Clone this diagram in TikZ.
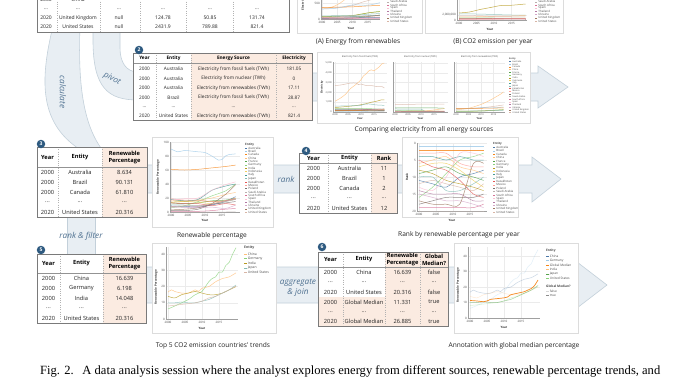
\documentclass[tikz,border=0pt]{standalone}
\usepackage{fontspec}
\usepackage{graphicx}
\setmainfont{Liberation Serif}
\newfontfamily\uif{Open Sans}
\usetikzlibrary{calc}
\definecolor{bandfill}{HTML}{E8EEF3}
\definecolor{bandline}{HTML}{C3D0DA}
\definecolor{peach}{HTML}{FBEBE1}
\definecolor{tbordc}{HTML}{7A7A7A}
\definecolor{badgec}{HTML}{2E5A80}
\definecolor{lblc}{HTML}{4E7090}
\definecolor{cboxc}{HTML}{DCDCDC}
\definecolor{gridc}{HTML}{EBEBEB}
\definecolor{axc}{HTML}{A0A0A0}
\definecolor{txc}{HTML}{222222}
\definecolor{cAU}{HTML}{4C78A8}
\definecolor{cBR}{HTML}{9ECAE9}
\definecolor{cCA}{HTML}{F58518}
\definecolor{cCN}{HTML}{FFBF79}
\definecolor{cFR}{HTML}{54A24B}
\definecolor{cDE}{HTML}{88D27A}
\definecolor{cIN}{HTML}{B79A20}
\definecolor{cID}{HTML}{F2CF5B}
\definecolor{cIT}{HTML}{439894}
\definecolor{cJP}{HTML}{83BCB6}
\definecolor{cKZ}{HTML}{E45756}
\definecolor{cMX}{HTML}{FF9D98}
\definecolor{cPL}{HTML}{79706E}
\definecolor{cSA}{HTML}{BAB0AC}
\definecolor{cZA}{HTML}{D67195}
\definecolor{cES}{HTML}{FCBFD2}
\definecolor{cTH}{HTML}{B279A2}
\definecolor{cUA}{HTML}{D6A5C9}
\definecolor{cGB}{HTML}{9E765F}
\definecolor{cUS}{HTML}{D8B5A5}
\newcounter{cellno}
\newcommand{\cell}[4]{\stepcounter{cellno}\edef\cellnm{cell\arabic{cellno}}\node[#1] (\cellnm) at (#2,#3) {#4};}
\newcommand{\dd}{...}
\newcommand{\rowIII}[5]{\cell{#1}{\tcA}{#2}{#3}\cell{#1}{\tcB}{#2}{#4}\cell{#1}{\tcC}{#2}{#5}}
\newcommand{\rowIV}[6]{\rowIII{#1}{#2}{#3}{#4}{#5}\cell{#1}{\tcD}{#2}{#6}}
\newcommand{\rowVI}[8]{\rowIV{#1}{#2}{#3}{#4}{#5}{#6}\cell{#1}{\tcE}{#2}{#7}\cell{#1}{\tcF}{#2}{#8}}
\def\tickfs{3}
\tikzset{
  band/.style={fill=bandfill, draw=bandline, line width=0.6pt},
  bandlbl/.style={font=\uif\itshape\fontsize{8.2}{10}\selectfont, text=lblc, inner sep=0},
  tframe/.style={fill=white, draw=none, inner sep=0, anchor=north west},
  tbrd/.style={draw=tbordc, line width=0.7pt},
  colsep/.style={draw=gray!60, line width=0.3pt, dotted},
  hdrsep/.style={draw=gray!85, line width=0.45pt},
  badge/.style={circle, fill=badgec, text=white, inner sep=0, minimum size=8.5pt, font=\uif\bfseries\fontsize{5}{5}\selectfont},
  tA/.style={font=\uif\fontsize{5}{6}\selectfont, inner sep=0, text=txc},
  tB/.style={font=\uif\fontsize{4.7}{5.5}\selectfont, inner sep=0, text=txc},
  tBh/.style={font=\uif\bfseries\fontsize{4.7}{5.5}\selectfont, inner sep=0, text=black},
  tC/.style={font=\uif\fontsize{5.7}{6.8}\selectfont, inner sep=0, text=txc},
  tCh/.style={font=\uif\bfseries\fontsize{5.7}{6.8}\selectfont, inner sep=0, text=black, align=center},
  cbox/.style={draw=cboxc, fill=white, line width=0.5pt, inner sep=0, anchor=north west},
  ccap/.style={font=\uif\fontsize{6.6}{7.5}\selectfont, inner sep=0, text=txc},
  gridln/.style={draw=gridc, line width=0.3pt},
  axln/.style={draw=axc, line width=0.3pt},
  tickl/.style={font=\uif\fontsize{\tickfs}{\tickfs}\selectfont, inner sep=0, text=black!70},
  axt/.style={font=\uif\bfseries\fontsize{3}{3.5}\selectfont, inner sep=0, text=black!80},
  lgt/.style={inner sep=0, text=black!70, anchor=west},
  dl/.style={line width=0.5pt, opacity=0.8, line join=round},
  dlf/.style={line width=0.5pt, opacity=0.3, line join=round},
}
\newcommand{\hgrid}[6]{\foreach \v/\l in {#6}{\draw[gridln] (#2,{#4-(#5)*\v}) -- (#3,{#4-(#5)*\v}); \node[tickl, anchor=east] (#1y\v) at (#2-1,{#4-(#5)*\v}) {\l};}}
\newcommand{\hgridonly}[5]{\foreach \v in {#5}{\draw[gridln] (#1,{#3-(#4)*\v}) -- (#2,{#3-(#4)*\v});}}
\newcommand{\vgrid}[5]{\foreach \k in {0,5,10,15}{\draw[gridln] ({#4+#5*\k},#2) -- ({#4+#5*\k},#3); \pgfmathtruncatemacro\yr{2000+\k}\node[tickl, anchor=north] (#1x\k) at ({#4+#5*\k},#3+1.8) {\yr};}}
\newcommand{\sixpt}[7][]{\draw[dl,#1] plot[smooth,tension=0.45] coordinates {(0,#2)(4,#3)(8,#4)(12,#5)(16,#6)(19,#7)};}
\newcommand{\dline}[2][]{\draw[dl,#1] plot[smooth,tension=0.45] coordinates {#2};}
\newcommand{\entlegend}[5]{%
  \node[lgt, font=\uif\bfseries\fontsize{#5}{#5}\selectfont] (#1t) at (#2,#3) {Entity};
  \foreach \nm/\cl [count=\i] in {Australia/cAU,Brazil/cBR,Canada/cCA,China/cCN,France/cFR,Germany/cDE,India/cIN,Indonesia/cID,Italy/cIT,Japan/cJP,Kazakhstan/cKZ,Mexico/cMX,Poland/cPL,Saudi Arabia/cSA,South Africa/cZA,Spain/cES,Thailand/cTH,Ukraine/cUA,United Kingdom/cGB,United States/cUS}{%
    \draw[draw=\cl, line width=0.5pt] (#2+0.2,#3+\i*#4) -- ++(2.2,0);
    \node[lgt, font=\uif\fontsize{#5}{#5}\selectfont] (#1\i) at (#2+3.2,#3+\i*#4) {\nm};}}
\begin{document}
\begin{tikzpicture}[x=1pt,y=-1pt]
\useasboundingbox (0,0) rectangle (678,381);
\clip (0,0) rectangle (678,381);
\fill[white] (0,0) rectangle (678,381);

% ---------- flow bands ----------
\draw[band] (53,26) .. controls (40,80) and (38,125) .. (84,152) -- (104,152) .. controls (82,125) and (78,80) .. (80,26) -- cycle;
\draw[band] (93,26) -- (93,40) .. controls (93,88) and (108,100) .. (138,100) -- (138,72) .. controls (126,72) and (120,62) .. (120,48) -- (120,26);
\fill[bandfill] (67,210) rectangle (95,262);
\draw[bandline, line width=0.6pt] (67,210) -- (67,262) (95,210) -- (95,262);
\draw[band] (300,73) -- (538,73) -- (538,66) -- (568,87) -- (538,108) -- (538,101) -- (300,101);
\draw[band] (140,165) -- (532,165) -- (532,157) -- (561,179) -- (532,202) -- (532,193) -- (140,193);
\draw[band] (140,267) -- (577,267) -- (577,262) -- (607,285) -- (577,308) -- (577,303) -- (140,303);

% ---------- table 1 ----------
\node[tframe, minimum width=252pt, minimum height=42pt] (tab1) at (37,-10) {};
\foreach \x in {57,100,140,186,233} \draw[colsep] (\x,-10) -- (\x,32);
\def\tcA{46}\def\tcB{78}\def\tcC{119}\def\tcD{163}\def\tcE{210}\def\tcF{257}
\cell{tA}{\tcA}{0}{2000}\cell{tA}{\tcB}{0}{China}
\rowVI{tA}{9}{\dd}{\dd}{\dd}{\dd}{\dd}{\dd}
\rowVI{tA}{18}{2020}{United Kingdom}{null}{124.78}{50.85}{131.74}
\rowVI{tA}{27}{2020}{United States}{null}{2431.9}{789.88}{821.4}
\draw[tbrd] (tab1.north west) rectangle (tab1.south east);

% ---------- table 2 ----------
\node[tframe, minimum width=179pt, minimum height=67pt] (tab2) at (133,53) {};
\fill[peach] (191,53) rectangle (312,120);
\foreach \x in {156,191,276} \draw[colsep] (\x,53) -- (\x,120);
\draw[hdrsep] (133,63) -- (312,63);
\def\tcA{144.5}\def\tcB{173.5}\def\tcC{233.5}\def\tcD{294}
\rowIV{tBh}{58}{Year}{Entity}{Energy Source}{Electricity}
\rowIV{tB}{69}{2000}{Australia}{Electricity from fossil fuels (TWh)}{181.05}
\rowIV{tB}{78.5}{2000}{Australia}{Electricity from nuclear (TWh)}{0}
\rowIV{tB}{88}{2000}{Australia}{Electricity from renewables (TWh)}{17.11}
\rowIV{tB}{97.5}{2000}{Brazil}{Electricity from fossil fuels (TWh)}{28.87}
\rowIV{tB}{107}{\dd}{\dd}{\dd}{\dd}
\rowIV{tB}{116}{2020}{United States}{Electricity from renewables (TWh)}{821.4}
\draw[tbrd] (tab2.north west) rectangle (tab2.south east);
\node[badge] (bdg2) at (139,50) {2};

% ---------- table 3 ----------
\node[tframe, minimum width=110pt, minimum height=70pt] (tab3) at (37,147) {};
\fill[peach] (102,147) rectangle (147,217);
\foreach \x in {58,102} \draw[colsep] (\x,147) -- (\x,217);
\draw[hdrsep] (37,167) -- (147,167);
\def\tcA{47.5}\def\tcB{80}\def\tcC{124.5}
\rowIII{tCh}{157.5}{Year}{Entity}{Renewable\\Percentage}
\rowIII{tC}{172.5}{2000}{Australia}{8.634}
\rowIII{tC}{182.5}{2000}{Brazil}{90.131}
\rowIII{tC}{192.5}{2000}{Canada}{61.810}
\rowIII{tC}{202.5}{\dd}{\dd}{\dd}
\rowIII{tC}{212.5}{2020}{United States}{20.316}
\draw[tbrd] (tab3.north west) rectangle (tab3.south east);
\node[badge] (bdg3) at (41,144) {3};

% ---------- table 4 ----------
\node[tframe, minimum width=98pt, minimum height=60pt] (tab4) at (299,153) {};
\fill[peach] (371,153) rectangle (397,213);
\foreach \x in {328,371} \draw[colsep] (\x,153) -- (\x,213);
\draw[hdrsep] (299,163.5) -- (397,163.5);
\def\tcA{313.5}\def\tcB{349.5}\def\tcC{384}
\rowIII{tCh}{158}{Year}{Entity}{Rank}
\rowIII{tC}{168.5}{2000}{Australia}{11}
\rowIII{tC}{178.5}{2000}{Brazil}{1}
\rowIII{tC}{188.5}{2000}{Canada}{2}
\rowIII{tC}{198.5}{\dd}{\dd}{\dd}
\rowIII{tC}{208.5}{2020}{United States}{12}
\draw[tbrd] (tab4.north west) rectangle (tab4.south east);
\node[badge] (bdg4) at (306,151) {4};

% ---------- table 5 ----------
\node[tframe, minimum width=109pt, minimum height=69pt] (tab5) at (37,254) {};
\fill[peach] (103,254) rectangle (146,323);
\foreach \x in {60,103} \draw[colsep] (\x,254) -- (\x,323);
\draw[hdrsep] (37,273) -- (146,273);
\def\tcA{48.5}\def\tcB{81.5}\def\tcC{124.5}
\rowIII{tCh}{263.5}{Year}{Entity}{Renewable\\Percentage}
\rowIII{tC}{278}{2000}{China}{16.639}
\rowIII{tC}{288.5}{2000}{Germany}{6.198}
\rowIII{tC}{298.5}{2000}{India}{14.048}
\rowIII{tC}{308.5}{\dd}{\dd}{\dd}
\rowIII{tC}{318.5}{2020}{United States}{20.316}
\draw[tbrd] (tab5.north west) rectangle (tab5.south east);
\node[badge] (bdg5) at (41,250) {5};

% ---------- table 6 ----------
\node[tframe, minimum width=130pt, minimum height=74pt] (tab6) at (318,252) {};
\fill[peach] (385,252) rectangle (448,326);
\fill[peach] (318,297) rectangle (448,326);
\foreach \x in {343,385,420} \draw[colsep] (\x,252) -- (\x,326);
\draw[hdrsep] (318,267.5) -- (448,267.5);
\def\tcA{330.5}\def\tcB{364}\def\tcC{402.5}\def\tcD{434}
\rowIV{tCh}{259.5}{Year}{Entity}{Renewable\\Percentage}{Global\\Median?}
\rowIV{tC}{272.5}{2000}{China}{16.639}{false}
\rowIV{tC}{282.5}{\dd}{\dd}{\dd}{\dd}
\rowIV{tC}{292}{2020}{United States}{20.316}{false}
\rowIV{tC}{302}{2000}{Global Median}{11.331}{true}
\rowIV{tC}{312}{\dd}{\dd}{\dd}{\dd}
\rowIV{tC}{321.5}{2020}{Global Median}{26.885}{true}
\draw[tbrd] (tab6.north west) rectangle (tab6.south east);
\node[badge] (bdg6) at (322,247) {6};

% ---------- chart A ----------
\node[cbox, minimum width=125pt, minimum height=38pt] (chA) at (297,-5) {};
\hgrid{cA}{321}{380}{19}{0.032}{0/0,500/500}
\vgrid{cA}{-10}{19}{322}{3.05}
\draw[axln] (321,-10) -- (321,19) -- (380,19);
\node[axt, rotate=90] (cAyt) at (303,3) {Electricity};
\node[axt] (cAxt) at (351,28.5) {Year};
\begin{scope}[shift={(322,19)}, x=3.05pt, y=3.2pt]
  \dline[draw=cCN]{(0,3.5)(2,3.4)(4,4)(6,5)(8,6.5)(10,8.5)(12,11)}
  \dline[draw=cUS]{(0,3.4)(4,3.5)(8,3.9)(10,4.2)(13,5.2)(16,6)(19,7)}
  \dline[draw=cCA]{(0,3.6)(5,3.7)(10,3.8)(15,4.1)(19,4.2)}
  \dline[draw=cBR]{(0,3.1)(5,3.4)(10,4.4)(15,4.3)(19,5.1)}
  \dline[draw=cDE]{(0,0.4)(5,0.7)(10,1)(15,1.9)(19,2.4)}
  \dline[draw=cIN]{(0,0.8)(5,0.9)(10,1.1)(15,1.9)(19,2.3)}
  \dline[draw=cJP]{(0,1)(10,1.1)(15,1.5)(19,1.7)}
  \dline[draw=cFR]{(0,0.7)(10,0.7)(19,1.1)}
  \dline[draw=cIT]{(0,0.5)(10,0.8)(19,1.2)}
  \dline[draw=cES]{(0,0.35)(10,0.9)(19,1)}
  \dline[draw=cGB]{(0,0.1)(10,0.3)(19,1.2)}
  \dline[draw=cMX]{(0,0.4)(19,0.6)}
  \dline[draw=cAU]{(0,0.2)(19,0.5)}
  \dline[draw=cZA]{(0,0.05)(19,0.12)}
\end{scope}
\entlegend{cAl}{387}{-43}{3.2}{2.9}
\node[ccap] (capA) at (358,42) {(A) Energy from renewables};

% ---------- chart B ----------
\node[cbox, minimum width=138pt, minimum height=38pt] (chB) at (425,-5) {};
\hgrid{cB}{457}{527}{20}{2.5}{0/0,2/{2,000,000}}
\vgrid{cB}{-10}{20}{459}{3.5}
\draw[axln] (457,-10) -- (457,20) -- (527,20);
\node[axt] (cBxt) at (490,29) {Year};
\begin{scope}[shift={(459,20)}, x=3.5pt, y=2.5pt]
  \dline[draw=cIN]{(0,2.8)(3,3.2)(6,4.2)(9,5)(12,5.8)(15,5.9)(19,6.4)}
  \dline[draw=cJP]{(0,2.4)(5,2.4)(10,2.2)(15,2)(19,2)}
  \dline[draw=cCN]{(0,1.2)(5,1.3)(10,1.5)(15,1.6)(19,1.8)}
  \dline[draw=cUS]{(0,1.6)(5,1.7)(10,1.4)(15,1.3)(19,1.2)}
  \dline[draw=cDE]{(0,0.9)(10,0.8)(19,0.7)}
  \dline[draw=cKZ]{(0,0.4)(10,0.6)(19,0.7)}
  \dline[draw=cTH]{(0,0.5)(19,0.5)}
  \dline[draw=cGB]{(0,0.6)(19,0.4)}
  \dline[draw=cZA]{(0,0.35)(19,0.45)}
  \dline[draw=cMX]{(0,0.3)(19,0.45)}
\end{scope}
\entlegend{cBl}{535}{-43}{3.2}{2.9}
\node[ccap] (capB) at (493,41.5) {(B) CO2 emission per year};

% ---------- chart 2 (three panels) ----------
\def\tickfs{2.4}
\node[cbox, minimum width=213pt, minimum height=71pt] (ch2) at (317,52) {};
\node[tickl] (c2t1) at (360,56.5) {Electricity from fossil fuels (TWh)};
\node[tickl] (c2t2) at (420.5,56.5) {Electricity from nuclear (TWh)};
\node[tickl] (c2t3) at (479.5,56.5) {Electricity from renewables (TWh)};
\hgrid{c2a}{333}{387}{112}{0.0098}{0/0,1000/{1,000},2000/{2,000},3000/{3,000},4000/{4,000},5000/{5,000}}
\hgridonly{393}{448}{112}{0.0098}{0,1000,2000,3000,4000,5000}
\hgridonly{454}{505}{112}{0.0098}{0,1000,2000,3000,4000,5000}
\vgrid{c2a}{62}{112}{335}{2.6}
\vgrid{c2b}{62}{112}{395}{2.6}
\vgrid{c2c}{62}{112}{456}{2.5}
\draw[axln] (333,62) -- (333,112) -- (387,112);
\draw[axln] (393,62) -- (393,112) -- (448,112);
\draw[axln] (454,62) -- (454,112) -- (505,112);
\node[axt, rotate=90, font=\uif\bfseries\fontsize{2.6}{3}\selectfont] (c2yt) at (322,87) {Electricity};
\node[axt, font=\uif\bfseries\fontsize{2.6}{3}\selectfont] (c2xa) at (360,118.5) {Year};
\node[axt, font=\uif\bfseries\fontsize{2.6}{3}\selectfont] (c2xb) at (420.5,118.5) {Year};
\node[axt, font=\uif\bfseries\fontsize{2.6}{3}\selectfont] (c2xc) at (479.5,118.5) {Year};
\begin{scope}[shift={(335,112)}, x=2.6pt, y=0.98pt]
  \dline[draw=cCN]{(0,11)(2,14)(4,18)(6,24)(8,28)(10,33)(11,37)(12,39)(13,42)(14,43)(15,42)(16,44)(17,46)(18,49)(19,50)}
  \dline[draw=cUS]{(0,27)(2,27.5)(4,28.5)(6,29.5)(8,29.5)(9,28)(10,28.5)(12,27)(14,27)(16,26)(18,26)(19,24.5)}
  \dline[draw=cIN]{(0,4.5)(4,5.5)(8,6.5)(10,7.5)(12,8.5)(14,10)(16,11)(18,12.5)(19,12.3)}
  \dline[draw=cJP]{(0,6)(5,6.3)(10,6.7)(11,7.8)(13,8.2)(16,7.2)(19,6.8)}
  \dline[draw=cDE]{(0,3.6)(10,3.8)(19,2.6)}
  \dline[draw=cMX]{(0,1.6)(10,2.2)(19,2.8)}
  \dline[draw=cSA]{(0,1.3)(10,2.3)(19,3.4)}
  \dline[draw=cID]{(0,0.8)(10,1.5)(19,2.4)}
  \dline[draw=cGB]{(0,2.8)(10,2.9)(19,1.3)}
  \dline[draw=cIT]{(0,2.2)(10,2)(19,1.7)}
  \dline[draw=cAU]{(0,1.8)(19,1.9)}
  \dline[draw=cZA]{(0,1.9)(19,2.2)}
  \dline[draw=cPL]{(0,1.4)(19,1.2)}
  \dline[draw=cCA]{(0,1.5)(19,1.1)}
  \dline[draw=cBR]{(0,0.3)(19,1)}
\end{scope}
\begin{scope}[shift={(395,112)}, x=2.6pt, y=0.98pt]
  \dline[draw=cUS]{(0,7.5)(10,8)(19,8)}
  \dline[draw=cFR]{(0,4.2)(5,4.3)(10,4.2)(15,4.2)(19,3.8)}
  \dline[draw=cJP]{(0,3.1)(5,2.9)(10,2.9)(11,1.6)(12,0.2)(14,0)(16,0.2)(19,0.6)}
  \dline[draw=cDE]{(0,1.7)(10,1.4)(11,1)(19,0.7)}
  \dline[draw=cCN]{(0,0.2)(10,0.7)(19,3.5)}
  \dline[draw=cCA]{(0,0.7)(19,1)}
  \dline[draw=cUA]{(0,0.8)(19,0.8)}
  \dline[draw=cGB]{(0,0.8)(19,0.55)}
\end{scope}
\begin{scope}[shift={(456,112)}, x=2.5pt, y=0.98pt]
  \dline[draw=cCN]{(0,2.2)(3,3)(6,4.4)(8,6)(10,7.7)(12,10)(14,12.5)(16,15.5)(18,18.5)(19,20.5)}
  \dline[draw=cUS]{(0,3.5)(5,3.6)(10,4.3)(15,5.7)(19,7.2)}
  \dline[draw=cBR]{(0,3)(5,3.4)(10,4.4)(15,4.3)(19,5.1)}
  \dline[draw=cCA]{(0,3.6)(10,3.8)(19,4.2)}
  \dline[draw=cDE]{(0,0.4)(10,1)(19,2.4)}
  \dline[draw=cIN]{(0,0.8)(10,1.1)(19,2.3)}
  \dline[draw=cJP]{(0,1)(10,1.1)(19,1.8)}
\end{scope}
\entlegend{c2l}{509}{59}{2.68}{2.2}
\node[ccap] (cap2) at (424,129.5) {Comparing electricity from all energy sources};
\def\tickfs{3}

% ---------- chart 3 ----------
\node[cbox, minimum width=121pt, minimum height=90pt] (ch3) at (152,137) {};
\hgrid{c3}{170}{240}{212}{0.7}{0/0,20/20,40/40,60/60,80/80,100/100}
\vgrid{c3}{142}{212}{171}{3.4}
\draw[axln] (170,142) -- (170,212) -- (240,212);
\node[axt, rotate=90] (c3yt) at (158,177) {Renewable Percentage};
\node[axt] (c3xt) at (205,220.5) {Year};
\begin{scope}[shift={(171,212)}, x=3.4pt, y=0.7pt]
  \dline[draw=cBR]{(0,90)(2,86)(4,88)(6,87)(8,86)(10,85)(12,80)(13,77)(14,74)(15,75)(16,80)(17,82)(19,83)}
  \sixpt[draw=cCA]{61}{60}{61}{63}{65}{67}
  \sixpt[draw=cAU]{8.6}{8}{7}{10}{15}{22}
  \sixpt[draw=cCN]{17}{16}{17}{20}{25}{28}
  \sixpt[draw=cFR]{13}{12}{13}{16}{17}{20}
  \sixpt[draw=cDE]{6}{9}{15}{23}{30}{40}
  \sixpt[draw=cIN]{14}{15}{16}{15}{16}{19}
  \sixpt[draw=cID]{14}{15}{14}{12}{16}{18}
  \sixpt[draw=cIT]{18}{16}{18}{31}{37}{40}
  \sixpt[draw=cJP]{10}{10}{9}{11}{15}{18}
  \sixpt[draw=cKZ]{13}{12}{12}{9}{12}{10}
  \sixpt[draw=cMX]{19}{17}{17}{15}{16}{20}
  \sixpt[draw=cPL]{2}{2}{4}{11}{13}{15}
  \sixpt[draw=cSA]{0}{0}{0}{0}{0}{0.1}
  \sixpt[draw=cZA]{1}{1}{1}{2}{4}{5}
  \sixpt[draw=cES]{17}{19}{20}{31}{39}{43}
  \sixpt[draw=cTH]{8}{7}{8}{11}{16}{18}
  \sixpt[draw=cUA]{7}{7}{6}{7}{5}{10}
  \sixpt[draw=cGB]{3}{4}{6}{12}{25}{39}
  \sixpt[draw=cUS]{8}{9}{9}{12}{15}{18}
\end{scope}
\entlegend{c3l}{245}{144.5}{3.4}{3}
\node[ccap] (cap3) at (212,236) {Renewable percentage};

% ---------- chart 4 ----------
\node[cbox, minimum width=116pt, minimum height=80pt] (ch4) at (402,137) {};
\hgrid{c4}{417}{487}{143}{-3.4}{0/0,5/5,10/10,15/15,20/20}
\vgrid{c4}{143}{211}{419}{3.4}
\draw[axln] (417,143) -- (417,211) -- (487,211);
\node[axt, rotate=90] (c4yt) at (407,177) {Rank};
\node[axt] (c4xt) at (452,220) {Year};
\begin{scope}[shift={(419,143)}, x=3.4pt, y=-3.4pt]
  \sixpt[draw=cBR]{1}{1}{1}{1}{1}{1}
  \sixpt[draw=cCA]{2}{2}{2}{2}{2}{2}
  \sixpt[draw=cAU]{11}{12}{13}{10}{9}{8}
  \sixpt[draw=cUS]{12}{11}{12}{13}{14}{12}
  \sixpt[draw=cCN]{6}{5}{4}{7}{8}{9}
  \sixpt[draw=cFR]{9}{8}{7}{9}{10}{11}
  \sixpt[draw=cDE]{16}{13}{9}{5}{4}{3}
  \sixpt[draw=cIN]{8}{9}{11}{12}{13}{14}
  \sixpt[draw=cID]{7}{6}{6}{8}{11}{13}
  \sixpt[draw=cIT]{4}{4}{5}{4}{5}{5}
  \sixpt[draw=cJP]{10}{10}{14}{14}{12}{10}
  \sixpt[draw=cKZ]{5}{7}{8}{11}{15}{16}
  \sixpt[draw=cMX]{3}{3}{3}{6}{7}{7}
  \sixpt[draw=cPL]{18}{17}{16}{16}{16}{15}
  \sixpt[draw=cSA]{20}{20}{20}{20}{20}{20}
  \sixpt[draw=cZA]{19}{19}{19}{19}{19}{18}
  \sixpt[draw=cES]{13}{14}{10}{3}{3}{4}
  \sixpt[draw=cTH]{14}{15}{15}{15}{17}{17}
  \sixpt[draw=cUA]{15}{16}{17}{17}{18}{19}
  \sixpt[draw=cGB]{17}{18}{18}{18}{6}{6}
\end{scope}
\entlegend{c4l}{493}{144}{3.4}{2.9}
\node[ccap] (cap4) at (459,235) {Rank by renewable percentage per year};

% ---------- chart 5 ----------
\node[cbox, minimum width=124pt, minimum height=90pt] (ch5) at (152,243) {};
\hgrid{c5}{166}{238}{319}{1.62}{0/0,10/10,20/20,30/30,40/40}
\vgrid{c5}{247}{319}{168}{3.4}
\draw[axln] (166,247) -- (166,319) -- (238,319);
\node[axt, rotate=90] (c5yt) at (156,287) {Renewable Percentage};
\node[axt] (c5xt) at (202,328) {Year};
\begin{scope}[shift={(168,319)}, x=3.4pt, y=1.62pt]
  \dline[draw=cDE]{(0,6.2)(2,8)(4,10)(6,12)(8,15)(10,17)(11,20)(12,23)(13,25)(14,26)(15,29)(16,29)(17,33)(18,35)(19,40)(20,44)}
  \dline[draw=cCN]{(0,16.6)(1,18)(2,17)(4,16)(6,16)(8,18)(9,17)(10,19)(12,20)(14,23)(16,25)(18,26)(20,28.5)}
  \dline[draw=cIN]{(0,14)(2,13)(4,15)(6,16)(8,17)(10,16)(12,15)(14,15)(16,16)(18,18)(20,20)}
  \dline[draw=cJP]{(0,10)(2,10)(4,10.5)(6,10)(8,10)(10,11)(12,12)(14,14)(16,16)(18,18)(20,21)}
  \dline[draw=cUS]{(0,8)(2,8.5)(4,9)(6,9.5)(8,10)(10,11)(12,13)(14,14)(16,16)(18,18)(20,20.3)}
\end{scope}
\node[lgt, font=\uif\bfseries\fontsize{3.4}{3.4}\selectfont] (c5lt) at (244,247.5) {Entity};
\foreach \nm/\cl [count=\i] in {China/cCN,Germany/cDE,India/cIN,Japan/cJP,United States/cUS}{
  \draw[draw=\cl, line width=0.5pt] (244.2,{249.4+\i*4.6}) -- ++(2.4,0);
  \node[lgt, font=\uif\fontsize{3.4}{3.4}\selectfont] (c5l\i) at (247.6,{249.4+\i*4.6}) {\nm};}
\node[ccap] (cap5) at (213,346) {Top 5 CO2 emission countries' trends};

% ---------- chart 6 ----------
\node[cbox, minimum width=124pt, minimum height=90pt] (ch6) at (454,243) {};
\hgrid{c6}{468}{540}{318}{1.55}{0/0,10/10,20/20,30/30,40/40}
\vgrid{c6}{247}{318}{470}{3.4}
\draw[axln] (468,247) -- (468,318) -- (540,318);
\node[axt, rotate=90] (c6yt) at (458,285) {Renewable Percentage};
\node[axt] (c6xt) at (504,327) {Year};
\begin{scope}[shift={(470,318)}, x=3.4pt, y=1.55pt]
  \dline[dlf, draw=cBR]{(0,6.2)(2,8)(4,10)(6,12)(8,15)(10,17)(11,20)(12,23)(13,25)(14,26)(15,29)(16,29)(17,33)(18,35)(19,40)(20,44)}
  \dline[dlf, draw=cAU]{(0,16.6)(1,18)(2,17)(4,16)(6,16)(8,18)(9,17)(10,19)(12,20)(14,23)(16,25)(18,26)(20,28.5)}
  \dline[dlf, draw=cCN]{(0,14)(2,13)(4,15)(6,16)(8,17)(10,16)(12,15)(14,15)(16,16)(18,18)(20,20)}
  \dline[dlf, draw=cFR, opacity=0.5]{(0,10)(2,10)(4,10.5)(6,10)(8,10)(10,11)(12,12)(14,14)(16,16)(18,18)(20,21)}
  \dline[dlf, draw=cDE]{(0,8)(2,8.5)(4,9)(6,9.5)(8,10)(10,11)(12,13)(14,14)(16,16)(18,18)(20,20.3)}
  \dline[draw=cCA, line width=0.7pt, opacity=0.95]{(0,11.3)(2,11)(4,10.5)(5,11)(6,12)(8,12.5)(10,13)(11,13.5)(12,15)(14,16)(16,17)(17,18)(18,19)(19,21)(20,24.5)}
\end{scope}
\node[lgt, font=\uif\bfseries\fontsize{3.2}{3.2}\selectfont] (c6lt) at (546,251) {Entity};
\foreach \nm/\cl [count=\i] in {China/cAU,Germany/cBR,Global Median/cCA,India/cCN,Japan/cFR,United States/cDE}{
  \draw[draw=\cl, line width=0.5pt] (546.2,{251.5+\i*4.5}) -- ++(2.4,0);
  \node[lgt, font=\uif\fontsize{3.2}{3.2}\selectfont] (c6l\i) at (549.6,{251.5+\i*4.5}) {\nm};}
\node[lgt, font=\uif\bfseries\fontsize{3.2}{3.2}\selectfont] (c6lg) at (546,286) {Global Median?};
\draw[draw=gray, line width=0.5pt, opacity=0.3] (546.2,291) -- ++(2.4,0);
\node[lgt, font=\uif\fontsize{3.2}{3.2}\selectfont] (c6lf) at (549.6,291) {false};
\draw[draw=gray, line width=0.5pt, opacity=0.9] (546.2,295.5) -- ++(2.4,0);
\node[lgt, font=\uif\fontsize{3.2}{3.2}\selectfont] (c6ltr) at (549.6,295.5) {true};
\node[ccap] (cap6) at (514,346) {Annotation with global median percentage};

% ---------- band labels ----------
\node[bandlbl, rotate=-90] (lcalc) at (63,92) {calculate};
\node[bandlbl, rotate=-27] (lpivot) at (112,79) {pivot};
\node[bandlbl] (lrank) at (286,179) {rank};
\node[bandlbl] (lrf) at (81,236) {rank \& filter};
\node[bandlbl, align=center] (lagg) at (298,288) {aggregate\\\& join};

% ---------- figure caption ----------
\node[anchor=west, inner sep=0, text=black] (figcap) at (40,371) {\resizebox{620pt}{!}{Fig. 2.\hspace{0.7em}A data analysis session where the analyst explores energy from different sources, renewable percentage trends, and}};
\end{tikzpicture}
\end{document}
